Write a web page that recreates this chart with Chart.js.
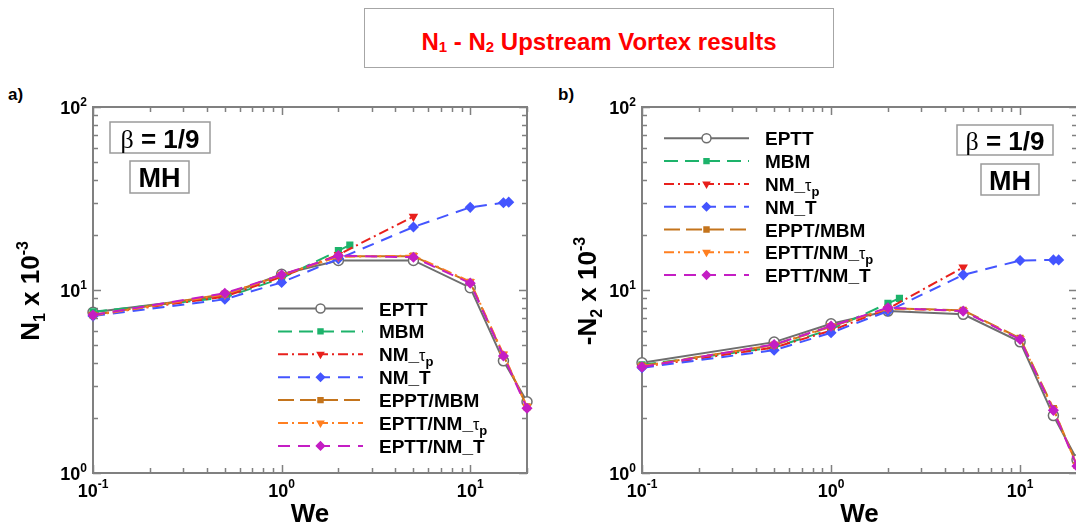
<!DOCTYPE html>
<html>
<head>
<meta charset="utf-8">
<script src="https://cdn.jsdelivr.net/npm/chart.js@4.4.1/dist/chart.umd.min.js"></script>
<style>
  html, body { margin: 0; padding: 0; width: 1076px; height: 524px; overflow: hidden; background: #fff; }
  body { position: relative; font-family: "Liberation Sans", Arial, sans-serif; }
  .title-box { position: absolute; left: 364px; top: 8px; width: 470px; height: 60px; box-sizing: border-box; border: 1.5px solid #a6a6a6; }
  .title-box span { position: absolute; left: 0; right: 0; top: 19px; text-align: center; color: #ff0000; font-weight: bold; font-size: 24px; white-space: nowrap; }
  .title-box sub { font-size: 15px; vertical-align: -2px; }
  .tag { position: absolute; top: 85px; font-weight: bold; font-size: 17px; color: #000; }
  canvas { position: absolute; top: 0; }
</style>
</head>
<body>
<div class="title-box"><span>N<sub>1</sub> - N<sub>2</sub> Upstream Vortex results</span></div>
<div class="tag" style="left:8px">a)</div>
<div class="tag" style="left:558px">b)</div>
<canvas id="chartN1" width="540" height="524" style="left:0"></canvas>
<canvas id="chartN2" width="545" height="524" style="left:540px"></canvas>
<script>
// Weissenberg numbers per series
const weAll = [0.1, 0.5, 1, 2, 5, 10, 15, 20];
const weMbm = [0.1, 0.5, 1, 2, 2.3];
const weNmTau = [0.1, 0.5, 1, 2, 5];
const weNmT = [0.1, 0.5, 1, 2, 5, 10, 15, 16];

const seriesNames = ['EPTT', 'MBM', 'NM_τp', 'NM_T', 'EPPT/MBM', 'EPTT/NM_τp', 'EPTT/NM_T'];
const seriesWe = [weAll, weMbm, weNmTau, weNmT, weAll, weAll, weAll];

// N1 x 10^-3
const n1Eptt = [7.55, 9.3, 12.2, 14.5, 14.5, 10.3, 4.1, 2.45];
const n1Mbm = [7.6, 9.1, 11.6, 16.4, 17.6];
const n1NmTau = [7.3, 9.2, 11.8, 15.6, 25.2];
const n1NmT = [7.2, 8.9, 11.0, 14.8, 22.1, 28.3, 30.0, 30.2];
const n1EpttMbm = [7.3, 9.5, 12.0, 15.3, 15.3, 11.0, 4.4, 2.3];
const n1EpttNmTau = [7.25, 9.45, 12.1, 15.2, 15.4, 11.1, 4.45, 2.3];
const n1EpttNmT = [7.3, 9.6, 12.1, 15.4, 15.1, 10.9, 4.36, 2.26];

// -N2 x 10^-3
const n2Eptt = [4.0, 5.19, 6.54, 7.67, 7.36, 5.21, 2.06, 1.18];
const n2Mbm = [3.9, 4.85, 6.1, 8.45, 9.0];
const n2NmTau = [3.8, 4.85, 6.0, 7.9, 13.3];
const n2NmT = [3.76, 4.69, 5.84, 7.67, 12.1, 14.5, 14.6, 14.6];
const n2EpttMbm = [3.85, 5.0, 6.3, 7.95, 7.75, 5.45, 2.25, 1.1];
const n2EpttNmTau = [3.82, 5.02, 6.35, 7.9, 7.7, 5.4, 2.22, 1.1];
const n2EpttNmT = [3.8, 5.04, 6.35, 8.0, 7.67, 5.37, 2.2, 1.09];

// axis decades (labels 10^n)
const xTickExps = [-1, 0, 1];
const yTickExps = [0, 1, 2];

const FONT = '"Liberation Sans", Arial, sans-serif';
const AXIS_GRAY = '#808080';

const seriesStyle = [
  { color: '#6e6e6e', dash: [], point: 'circle', fill: '#ffffff', radius: 5 },
  { color: '#1db36b', dash: [14, 7], point: 'rect', radius: 4 },
  { color: '#e8201c', dash: [10, 4, 2, 4], point: 'triangle', rotation: 180, radius: 4 },
  { color: '#4455ff', dash: [12, 8], point: 'rectRot', radius: 4.5 },
  { color: '#c4741c', dash: [16, 6], point: 'rect', radius: 4 },
  { color: '#ff7f20', dash: [10, 4, 2, 4], point: 'triangle', rotation: 180, radius: 4 },
  { color: '#c41ec4', dash: [12, 8], point: 'rectRot', radius: 4.5 },
];

function bold(px) { return `bold ${px}px ${FONT}`; }

// text made of pieces with their own font and baseline shift
function drawRich(ctx, parts, x, y, align) {
  let w = 0;
  parts.forEach(p => { ctx.font = p.f; w += ctx.measureText(p.t).width; });
  let cx = align === 'right' ? x - w : align === 'center' ? x - w / 2 : x;
  ctx.textAlign = 'left';
  ctx.textBaseline = 'alphabetic';
  parts.forEach(p => {
    ctx.font = p.f;
    ctx.fillText(p.t, cx, y + (p.dy || 0));
    cx += ctx.measureText(p.t).width;
  });
}

function legendParts(name) {
  if (name.endsWith('τp')) {
    return [
      { t: name.slice(0, -2), f: bold(19) },
      { t: 'τ', f: `16px ${FONT}` },
      { t: 'p', f: bold(13), dy: 5 },
    ];
  }
  return [{ t: name, f: bold(19) }];
}

function makePanelPlugin(cfg) {
  return {
    id: 'panelDecor',
    beforeDatasetsDraw(chart) {
      const { ctx, chartArea: a, scales: { x, y } } = chart;
      ctx.save();
      ctx.strokeStyle = AXIS_GRAY;
      ctx.lineWidth = 1.5;
      // inward ticks on all four sides
      for (let e = -1; e <= 1; e++) {
        for (let m = 1; m <= 9; m++) {
          const v = m * Math.pow(10, e);
          if (v < x.min - 1e-9 || v > x.max + 1e-9) continue;
          const px = Math.round(x.getPixelForValue(v)) + 0.5;
          const len = m === 1 ? 8 : 5;
          ctx.beginPath();
          ctx.moveTo(px, a.bottom); ctx.lineTo(px, a.bottom - len);
          ctx.moveTo(px, a.top); ctx.lineTo(px, a.top + len);
          ctx.stroke();
        }
      }
      for (let e = 0; e <= 2; e++) {
        for (let m = 1; m <= 9; m++) {
          const v = m * Math.pow(10, e);
          if (v < y.min - 1e-9 || v > y.max + 1e-9) continue;
          const py = Math.round(y.getPixelForValue(v)) + 0.5;
          const len = m === 1 ? 8 : 5;
          ctx.beginPath();
          ctx.moveTo(a.left, py); ctx.lineTo(a.left + len, py);
          ctx.moveTo(a.right, py); ctx.lineTo(a.right - len, py);
          ctx.stroke();
        }
      }
      ctx.lineWidth = 2;
      ctx.strokeRect(a.left, a.top, a.right - a.left, a.bottom - a.top);
      ctx.restore();
    },
    afterDraw(chart) {
      const { ctx, chartArea: a, scales: { x, y } } = chart;
      ctx.save();
      ctx.fillStyle = '#000';

      // decade labels
      xTickExps.forEach(n => {
        const px = x.getPixelForValue(Math.pow(10, n));
        drawRich(ctx, [{ t: '10', f: bold(18) }, { t: String(n), f: bold(12), dy: -9 }], px, a.bottom + 24, 'center');
      });
      yTickExps.forEach(n => {
        const py = y.getPixelForValue(Math.pow(10, n));
        drawRich(ctx, [{ t: '10', f: bold(18) }, { t: String(n), f: bold(12), dy: -8 }], a.left - 6, py + 7, 'right');
      });

      // axis titles
      drawRich(ctx, [{ t: 'We', f: bold(26) }], (a.left + a.right) / 2, 522, 'center');
      ctx.save();
      ctx.translate(cfg.yTitleX, cfg.yTitleY);
      ctx.rotate(-Math.PI / 2);
      drawRich(ctx, [
        { t: cfg.yTitlePrefix + 'N', f: bold(26) },
        { t: cfg.yTitleSub, f: bold(16), dy: 6 },
        { t: ' x 10', f: bold(26) },
        { t: '-3', f: bold(16), dy: -11 },
      ], 0, 0, 'center');
      ctx.restore();

      // labelled boxes
      cfg.boxes.forEach(b => {
        ctx.fillStyle = '#fff';
        ctx.fillRect(b.x, b.y, b.w, b.h);
        ctx.strokeStyle = '#9a9a9a';
        ctx.lineWidth = 1.5;
        ctx.strokeRect(b.x, b.y, b.w, b.h);
        ctx.fillStyle = '#000';
        drawRich(ctx, b.parts, b.x + b.w / 2, b.y + b.h / 2 + 10, 'center');
      });

      // legend
      const L = cfg.legend;
      chart.data.datasets.forEach((ds, i) => {
        const st = seriesStyle[i];
        const ly = L.y + i * L.step;
        ctx.save();
        ctx.strokeStyle = st.color;
        ctx.lineWidth = 2;
        ctx.setLineDash(st.dash);
        ctx.beginPath();
        ctx.moveTo(L.x0, ly);
        ctx.lineTo(L.x1, ly);
        ctx.stroke();
        ctx.setLineDash([]);
        ctx.fillStyle = st.fill || st.color;
        ctx.lineWidth = 1.5;
        Chart.helpers.drawPoint(ctx, {
          pointStyle: st.point, rotation: st.rotation || 0,
          radius: st.radius - 0.5, borderWidth: 1.5,
        }, (L.x0 + L.x1) / 2, ly);
        ctx.restore();
        ctx.fillStyle = '#000';
        drawRich(ctx, legendParts(ds.label), L.tx, ly + 7, 'left');
      });
      ctx.restore();
    },
  };
}

function betaParts() {
  return [
    { t: 'β', f: `26px "Liberation Serif", "DejaVu Serif", serif` },
    { t: ' = 1/9', f: bold(26) },
  ];
}

function buildPanel(canvasId, values, cfg) {
  const datasets = seriesNames.map((name, i) => {
    const st = seriesStyle[i];
    return {
      label: name,
      data: seriesWe[i].map((we, k) => ({ x: we, y: values[i][k] })),
      borderColor: st.color,
      backgroundColor: st.fill || st.color,
      borderWidth: 2,
      borderDash: st.dash,
      pointStyle: st.point,
      pointRotation: st.rotation || 0,
      pointRadius: st.radius,
      pointBorderWidth: 1.5,
      pointBackgroundColor: st.fill || st.color,
      pointBorderColor: st.color,
      tension: 0,
      clip: false,
      order: seriesNames.length - i,
    };
  });

  return new Chart(document.getElementById(canvasId), {
    type: 'line',
    data: { datasets },
    options: {
      responsive: false,
      animation: false,
      devicePixelRatio: 1,
      layout: { padding: cfg.padding },
      plugins: { legend: { display: false }, tooltip: { enabled: false } },
      scales: {
        x: { type: 'logarithmic', min: 0.1, max: 20, display: false },
        y: { type: 'logarithmic', min: 1, max: 100, display: false },
      },
    },
    plugins: [makePanelPlugin(cfg)],
  });
}

buildPanel('chartN1',
  [n1Eptt, n1Mbm, n1NmTau, n1NmT, n1EpttMbm, n1EpttNmTau, n1EpttNmT],
  {
    padding: { left: 93, top: 107, right: 13, bottom: 51 },
    yTitleX: 39, yTitleY: 291, yTitlePrefix: '', yTitleSub: '1',
    boxes: [
      { x: 110, y: 122, w: 100, h: 31, parts: betaParts() },
      { x: 130, y: 161, w: 59, h: 32, parts: [{ t: 'MH', f: bold(27) }] },
    ],
    legend: { x0: 278, x1: 363, tx: 379, y: 308.5, step: 22.9 },
  });

buildPanel('chartN2',
  [n2Eptt, n2Mbm, n2NmTau, n2NmT, n2EpttMbm, n2EpttNmTau, n2EpttNmT],
  {
    padding: { left: 102, top: 107, right: 8, bottom: 51 },
    yTitleX: 56, yTitleY: 291, yTitlePrefix: '-', yTitleSub: '2',
    boxes: [
      { x: 417, y: 125, w: 96, h: 30, parts: betaParts() },
      { x: 441, y: 164, w: 58, h: 31, parts: [{ t: 'MH', f: bold(27) }] },
    ],
    legend: { x0: 124, x1: 209, tx: 225, y: 138.3, step: 22.8 },
  });
</script>
</body>
</html>
